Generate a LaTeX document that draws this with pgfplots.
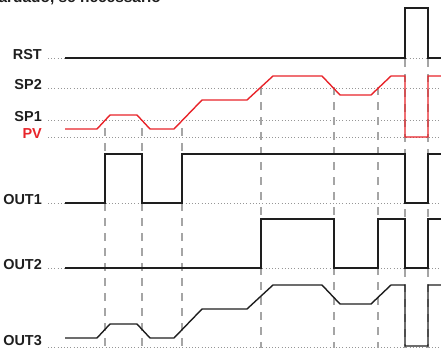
\documentclass[border=0pt]{standalone}
\usepackage{pgfplots}
\pgfplotsset{compat=1.18}
\usepackage{fontspec}
\setmainfont{Liberation Sans}
\definecolor{sigred}{RGB}{232,36,42}
\definecolor{sigblk}{RGB}{30,30,30}
\definecolor{dotgray}{RGB}{150,150,150}
\definecolor{dashgray}{RGB}{165,165,165}
\begin{document}
\begin{tikzpicture}
\begin{axis}[
  width=441bp, height=348bp, scale only axis,
  xmin=0, xmax=441, ymin=0, ymax=348, y dir=reverse,
  hide axis, clip=false,
  dotline/.style={dotgray, line width=0.9bp, dash pattern=on 1bp off 2.2bp},
  dashline/.style={dashgray, line width=1.2bp, dash pattern=on 8bp off 7bp},
  sig/.style={sigblk, line width=1.4bp, line join=miter},
]
% dotted reference lines
\addplot[dotline] coordinates {(48,58) (441,58)};
\addplot[dotline] coordinates {(48,88) (441,88)};
\addplot[dotline] coordinates {(48,120) (441,120)};
\addplot[dotline] coordinates {(48,137) (441,137)};
\addplot[dotline] coordinates {(48,203) (441,203)};
\addplot[dotline] coordinates {(48,268) (441,268)};
\addplot[dotline] coordinates {(48,347) (441,347)};
% dashed verticals
\addplot[dashline] coordinates {(105,128) (105,348)};
\addplot[dashline] coordinates {(142,128) (142,348)};
\addplot[dashline] coordinates {(182,128) (182,348)};
\addplot[dashline] coordinates {(261,87) (261,348)};
\addplot[dashline] coordinates {(334,87) (334,348)};
\addplot[dashline] coordinates {(378,87) (378,348)};
\addplot[dashline] coordinates {(405,59) (405,348)};
\addplot[dashline] coordinates {(428,59) (428,348)};
% RST
\addplot[sig] coordinates {(65,58) (405,58) (405,8) (428,8) (428,58) (441,58)};
% PV
\addplot[sigred, line width=1.4bp] coordinates {(65,129) (97,129) (110,115) (137,115) (150,129) (174,129) (202,100) (247,100) (273,76) (322,76) (340,95) (371,95) (391,76) (405,76) (405,137) (428,137) (428,76) (441,76)};
% OUT1
\addplot[sig] coordinates {(65,203) (105,203) (105,154) (142,154) (142,203) (182,203) (182,154) (405,154) (405,203) (428,203) (428,154) (441,154)};
% OUT2
\addplot[sig] coordinates {(65,268) (261,268) (261,219) (334,219) (334,268) (378,268) (378,219) (405,219) (405,268) (428,268) (428,219) (441,219)};
% OUT3
\addplot[sig] coordinates {(65,338) (97,338) (110,324) (137,324) (150,338) (174,338) (202,309) (247,309) (273,285) (322,285) (340,304) (371,304) (391,285) (405,285) (405,346) (428,346) (428,285) (441,285)};
% labels
\begin{scope}[every node/.style={anchor=base east, inner sep=0pt, font=\fontsize{14.5}{16}\selectfont\bfseries, sigblk}]
\node at (axis cs:42,59) {RST};
\node at (axis cs:42,89) {SP2};
\node at (axis cs:42,121) {SP1};
\node[text=sigred] at (axis cs:42,138) {PV};
\node at (axis cs:42,204) {OUT1};
\node at (axis cs:42,269) {OUT2};
\node at (axis cs:42,345.5) {OUT3};
\end{scope}
\node[anchor=base east, inner sep=0pt, font=\fontsize{15.5}{17}\selectfont\bfseries, sigblk] at (axis cs:161,3) {retardado, se necessário};
\end{axis}
\pgfresetboundingbox
\path[use as bounding box] (current axis.south west) rectangle (current axis.north east);
\end{tikzpicture}
\end{document}
